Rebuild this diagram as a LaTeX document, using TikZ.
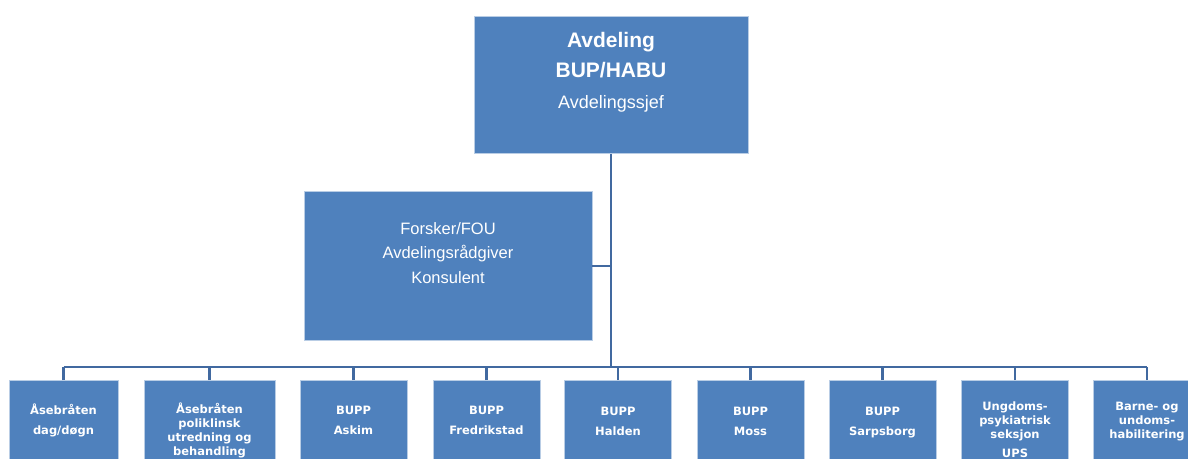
\documentclass[tikz,border=0pt]{standalone}
\usepackage{fontspec}
\setmainfont{Liberation Sans}
\newfontfamily\unitfont{DejaVu Sans}
\usetikzlibrary{positioning}

\definecolor{boxblue}{RGB}{79,129,189}
\definecolor{linkblue}{RGB}{65,105,160}
\definecolor{rimblue}{RGB}{185,205,229}

\tikzset{
	box/.style={fill=boxblue, draw=rimblue, line width=0.8pt, text=white,
		align=center, anchor=north, inner sep=0pt},
	unit/.style={box, minimum width=107pt, text height=55pt, text depth=40pt,
		font=\unitfont\bfseries\fontsize{11.5}{19.5}\selectfont},
	tight/.style={font=\unitfont\bfseries\fontsize{11.5}{14}\selectfont},
	link/.style={draw=linkblue, line width=2.8pt}
}

\begin{document}
\begin{tikzpicture}[x=1pt, y=-1pt]

	\useasboundingbox (0,0) rectangle (1188,458);
	\clip (0,0) rectangle (1188,458);

	\def\top{380} % top of the unit boxes

	% head of department
	\node[box, minimum width=274pt, text height=92pt, text depth=45pt,
		font=\bfseries\fontsize{21}{30.5}\selectfont]
		(A) at (611,16) {Avdeling\\BUP/HABU\\{\mdseries\fontsize{18}{30.5}\selectfont Avdelingssjef}};

	% staff
	\node[box, minimum width=288pt, text height=92pt, text depth=57pt,
		font=\fontsize{16.5}{24.5}\selectfont]
		(F) at (448,191) {Forsker/FOU\\Avdelingsrådgiver\\Konsulent};

	% units
	\node[unit, minimum width=109pt, text height=54pt] (B1) at (63.5,\top) {Åsebråten\\dag/døgn};
	\node[unit, tight, minimum width=131pt, text height=75pt]
		(B2) at (209.5,\top) {Åsebråten\\poliklinsk\\utredning og\\behandling};
	\node[unit, text height=54pt] (B3) at (353.5,\top) {BUPP\\Askim};
	\node[unit, text height=54pt] (B4) at (486.5,\top) {BUPP\\Fredrikstad};
	\node[unit] (B5) at (618,\top) {BUPP\\Halden};
	\node[unit] (B6) at (750.5,\top) {BUPP\\Moss};
	\node[unit] (B7) at (882.5,\top) {BUPP\\Sarpsborg};
	\node[unit, tight, text height=77pt]
		(B8) at (1015,\top) {Ungdoms-\\psykiatrisk\\seksjon\\[5pt]UPS};
	\node[unit, tight, text height=58pt]
		(B9) at (1147,\top) {Barne- og\\undoms-\\habilitering};

	% bus
	\coordinate (L) at (63.5,367);
	\coordinate (R) at (1147,367);
	\draw[link] (L) -- (R);

	% trunk and staff line
	\draw[link] (A.south) -- (A.south |- L);
	\draw[link] (F.east) -- (F.east -| A.south);

	% drops to units
	\draw[link] (B1.north) -- (B1.north |- L);
	\draw[link] (B2.north) -- (B2.north |- L);
	\draw[link] (B3.north) -- (B3.north |- L);
	\draw[link] (B4.north) -- (B4.north |- L);
	\draw[link] (B5.north) -- (B5.north |- L);
	\draw[link] (B6.north) -- (B6.north |- L);
	\draw[link] (B7.north) -- (B7.north |- L);
	\draw[link] (B8.north) -- (B8.north |- L);
	\draw[link] (B9.north) -- (B9.north |- L);

\end{tikzpicture}
\end{document}
